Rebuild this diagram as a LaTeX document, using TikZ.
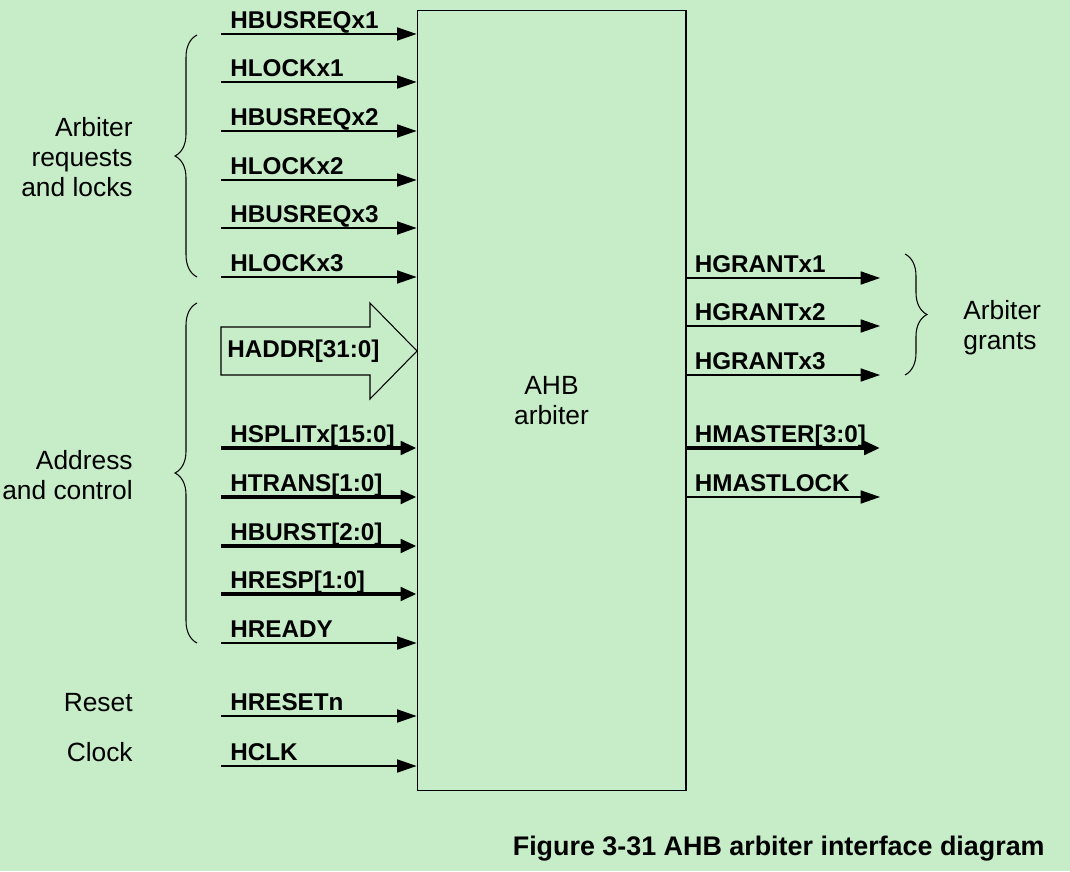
\documentclass[tikz,border=0pt]{standalone}
\usepackage{fontspec}
\setmainfont{Liberation Sans}
\usetikzlibrary{arrows.meta,decorations.pathreplacing}
\definecolor{armgreen}{RGB}{198,237,200}

\tikzset{
  sig/.style={line width=0.6pt,-{Triangle[length=11pt,width=7.5pt]}},
  bus/.style={line width=2.4pt,-{Triangle[length=9pt,width=7.5pt]}},
  siglab/.style={font=\fontsize{13.8}{16}\selectfont\bfseries, anchor=base west, inner sep=0pt},
  grplab/.style={font=\fontsize{15}{17}\selectfont, inner sep=0pt},
  grpbrace/.style={decorate, decoration={brace, amplitude=12.5pt}, line width=0.6pt},
}

\begin{document}
\begin{tikzpicture}[x=0.02cm,y=-0.02cm]
\fill[armgreen] (0,0) rectangle (1070,871);
\useasboundingbox (0,0) rectangle (1070,871);

\node[draw, line width=0.6pt, minimum width=5.38cm, minimum height=15.62cm, inner sep=0pt,
      align=center, font=\fontsize{15}{17}\selectfont] (arb) at (551.5,400.5) {AHB\\arbiter};

% single inputs
\foreach \i/\yy/\txt in {1/34/HBUSREQx1, 2/82/HLOCKx1, 3/131/HBUSREQx2, 4/180/HLOCKx2,
                         5/228/HBUSREQx3, 6/277/HLOCKx3, 7/643/HREADY, 8/716/HRESETn, 9/766/HCLK} {
  \coordinate (in\i) at (221,\yy);
  \draw[sig] (in\i) -- (in\i -| arb.west);
  \node[siglab] (inlab\i) at ([shift={(9,-5.5)}]in\i) {\txt};
}

% bus inputs
\foreach \i/\yy/\txt in {1/448/HSPLITx[15:0], 2/497/HTRANS[1:0], 3/546/HBURST[2:0], 4/594/HRESP[1:0]} {
  \coordinate (bus\i) at (221,\yy);
  \draw[bus] (bus\i) -- (bus\i -| arb.west);
  \node[siglab] (buslab\i) at ([shift={(9,-5.5)}]bus\i) {\txt};
}

% address arrow
\coordinate (addr) at (221,351);
\draw[line width=0.6pt] (221,327) -- (370,327) -- (370,303) -- (417,351) -- (370,399) -- (370,375) -- (221,375) -- cycle;
\node[siglab, anchor=west] (addrlab) at ([shift={(6,0)}]addr) {HADDR[31:0]};

% outputs
\foreach \i/\yy/\txt/\sty in {1/278/HGRANTx1/sig, 2/326/HGRANTx2/sig, 3/375/HGRANTx3/sig,
                              4/448/HMASTER[3:0]/bus, 5/497/HMASTLOCK/sig} {
  \coordinate (out\i) at (880,\yy);
  \path (arb.east |- out\i) coordinate (src\i);
  \draw[\sty] (src\i) -- (out\i);
  \node[siglab] (outlab\i) at ([shift={(8,-5.5)}]src\i) {\txt};
}

% braces
\draw[grpbrace] (197,277) -- (197,35);
\draw[grpbrace] (197,643) -- (197,303);
\draw[grpbrace] (905,254) -- (905,375);

\node[grplab, anchor=east, align=right] (reqlab) at (133,157) {Arbiter\\requests\\and locks};
\node[grplab, anchor=east, align=right] (ctrllab) at (133,475) {Address\\and control};
\node[grplab, anchor=east] (rstlab) at (133,703) {Reset};
\node[grplab, anchor=east] (clklab) at (133,752) {Clock};
\node[grplab, anchor=west, align=left] (grantlab) at (963,328) {Arbiter\\grants};

\node[font=\fontsize{15.3}{18}\selectfont\bfseries, anchor=east, inner sep=0pt] (caption) at (1045,849)
  {Figure 3-31 AHB arbiter interface diagram};
\end{tikzpicture}
\end{document}
